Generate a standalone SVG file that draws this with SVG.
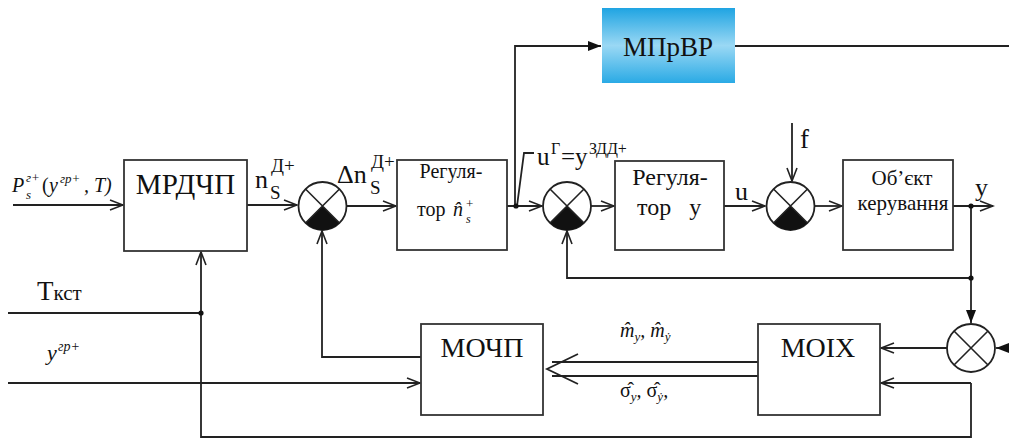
<svg xmlns="http://www.w3.org/2000/svg" width="1009" height="439" viewBox="0 0 1009 439" font-family="Liberation Serif, Times New Roman, serif">
<style>
.ln{stroke:#222;stroke-width:1.8;fill:none}
.box{fill:#fff;stroke:#333;stroke-width:1.8}
text{fill:#111}
.i{font-style:italic}
.n{font-style:normal}
.dot{fill:#111}
.sum{fill:#fff;stroke:#222;stroke-width:1.8}
.x{stroke:#222;stroke-width:1.6}
</style>
<defs>
<marker id="oa" markerUnits="userSpaceOnUse" markerWidth="16" markerHeight="12" refX="14" refY="6" orient="auto">
<path d="M1,1 L14,6 L1,11" fill="none" stroke="#222" stroke-width="1.6"/>
</marker>
<marker id="fa" markerUnits="userSpaceOnUse" markerWidth="14" markerHeight="12" refX="13" refY="6" orient="auto">
<path d="M0,1 L13,6 L0,11 Z" fill="#111"/>
</marker>
<linearGradient id="blue" x1="0" y1="0" x2="0" y2="1">
<stop offset="0" stop-color="#1fa4e2"/>
<stop offset="0.5" stop-color="#9ad8f4"/>
<stop offset="1" stop-color="#2aaae5"/>
</linearGradient>
</defs>

<g id="connectors">
<path class="ln" d="M13,205 H123" marker-end="url(#oa)"/>
<path class="ln" d="M247,205 H297" marker-end="url(#oa)"/>
<path class="ln" d="M347,206 H396" marker-end="url(#oa)"/>
<path class="ln" d="M507,206 H542" marker-end="url(#oa)"/>
<path class="ln" d="M515,206 V46 H601" marker-end="url(#fa)"/>
<path class="ln" d="M735,46 H1009"/>
<path class="ln" d="M591,206 H614" marker-end="url(#oa)"/>
<path class="ln" d="M724,206 H765" marker-end="url(#oa)"/>
<path class="ln" d="M792,123 V181" marker-end="url(#oa)"/>
<path class="ln" d="M815,206 H842" marker-end="url(#oa)"/>
<path class="ln" d="M953,206 H993" marker-end="url(#oa)"/>
<path class="ln" d="M971,206 V278 H567 V231" marker-end="url(#oa)"/>
<path class="ln" d="M971,278 V323" marker-end="url(#fa)"/>
<path class="ln" d="M1009,348 H996" marker-end="url(#fa)"/>
<path class="ln" d="M947,348 H881" marker-end="url(#oa)"/>
<path class="ln" d="M971,383 H881" marker-end="url(#oa)"/>
<path class="ln" d="M971,383 V437 H201 V252" marker-end="url(#oa)"/>
<path class="ln" d="M8,313 H201"/>
<path class="ln" d="M8,383 H420" marker-end="url(#oa)"/>
<path class="ln" d="M421,357 H322 V231" marker-end="url(#oa)"/>
<path class="ln" d="M758,362 H552 M758,376 H552"/>
<path class="ln" d="M578,354 L547,369 L578,384"/>
<path class="ln" d="M517,206 L524,153 H534"/>
<circle class="dot" cx="516" cy="206" r="2.6"/>
<circle class="dot" cx="971" cy="206" r="2.6"/>
<circle class="dot" cx="971" cy="278" r="2.6"/>
<circle class="dot" cx="201" cy="313" r="2.6"/>
</g>

<g id="input-labels">
<text class="i" x="12" y="192" font-size="20">P</text>
<text class="i" x="26" y="182" font-size="13">г+</text>
<text class="i" x="26" y="199" font-size="13">s</text>
<text x="42" y="192" font-size="20">(</text>
<text class="i" x="49" y="192" font-size="20">y</text>
<text class="i" x="60" y="183" font-size="13">гр+</text>
<text class="i" x="84" y="192" font-size="20">, T)</text>
<text x="37" y="300" font-size="27">Т<tspan font-size="21">кст</tspan></text>
<text class="i" x="47" y="360" font-size="22">y</text>
<text class="i" x="58" y="351" font-size="14">гр+</text>
</g>

<g id="mrdchp">
<rect class="box" x="124" y="160" width="123" height="91"/>
<text x="185.5" y="194" font-size="29" text-anchor="middle">МРДЧП</text>
</g>

<g id="sum1">
<circle class="sum" cx="322.5" cy="206" r="24"/>
<path d="M322.5,206 L339.5,223 A24,24 0 0 1 305.5,223 Z" fill="#111"/>
<path class="x" d="M305.5,189 L339.5,223 M339.5,189 L305.5,223"/>
</g>
<g id="label-n">
<text x="255" y="188" font-size="26">n</text>
<text x="270" y="199" font-size="19">S</text>
<text x="271" y="172" font-size="19">Д+</text>
</g>
<g id="label-dn">
<text x="337" y="183" font-size="26">Δn</text>
<text x="370" y="194" font-size="19">S</text>
<text x="371" y="168" font-size="19">Д+</text>
</g>

<g id="reg1">
<rect class="box" x="397" y="160" width="110" height="90"/>
<text x="451" y="178" font-size="20" text-anchor="middle">Регуля-</text>
<text x="417" y="216" font-size="20">тор</text>
<text class="i" x="453" y="216" font-size="20">n̂</text>
<text class="i" x="466" y="223" font-size="12">s</text>
<text x="466" y="208" font-size="13">+</text>
</g>

<g id="label-ug">
<text x="537" y="165" font-size="25">u</text>
<text x="551" y="154" font-size="16">Г</text>
<text x="561" y="165" font-size="25">=у</text>
<text x="589" y="154" font-size="16">ЗДД+</text>
</g>

<g id="mprvr">
<rect x="602" y="8" width="133" height="75" fill="url(#blue)"/>
<text x="668" y="56" font-size="27" text-anchor="middle">МПрВР</text>
</g>

<g id="sum2">
<circle class="sum" cx="567" cy="206" r="24"/>
<path d="M567,206 L584,223 A24,24 0 0 1 550,223 Z" fill="#111"/>
<path class="x" d="M550,189 L584,223 M584,189 L550,223"/>
</g>

<g id="reg2">
<rect class="box" x="615" y="161" width="109" height="89"/>
<text x="670" y="185" font-size="24" text-anchor="middle">Регуля-</text>
<text x="637" y="215" font-size="24" xml:space="preserve">тор   у</text>
</g>
<text x="735" y="200" font-size="26">u</text>

<g id="sum3">
<circle class="sum" cx="790.5" cy="206" r="24"/>
<path d="M790.5,206 L807.5,223 A24,24 0 0 1 773.5,223 Z" fill="#111"/>
<path class="x" d="M773.5,189 L807.5,223 M807.5,189 L773.5,223"/>
</g>
<text x="800" y="148" font-size="27">f</text>

<g id="object">
<rect class="box" x="843" y="160" width="110" height="90"/>
<text x="902" y="185" font-size="21" text-anchor="middle">Об’єкт</text>
<text x="903" y="210" font-size="21" text-anchor="middle">керування</text>
</g>
<text x="975" y="196" font-size="26">y</text>

<g id="sum4">
<circle class="sum" cx="971" cy="348" r="24"/>
<path class="x" d="M954,331 L988,365 M988,331 L954,365"/>
</g>

<g id="moix">
<rect class="box" x="758" y="324" width="122" height="91"/>
<text x="818" y="357" font-size="28" text-anchor="middle">МОІХ</text>
</g>

<g id="mochp">
<rect class="box" x="421" y="324" width="122" height="91"/>
<text x="482" y="357" font-size="28" text-anchor="middle">МОЧП</text>
</g>

<g id="estimates">
<text class="i" x="620" y="337" font-size="20">m̂<tspan font-size="13" dy="4">y</tspan><tspan dy="-4">, m̂</tspan><tspan font-size="13" dy="4">ẏ</tspan></text>
<text class="i" x="620" y="397" font-size="20"><tspan class="n">σ̂</tspan><tspan font-size="13" dy="4">y</tspan><tspan dy="-4">, </tspan><tspan class="n">σ̂</tspan><tspan font-size="13" dy="4">ẏ</tspan><tspan dy="-4">,</tspan></text>
</g>
</svg>
